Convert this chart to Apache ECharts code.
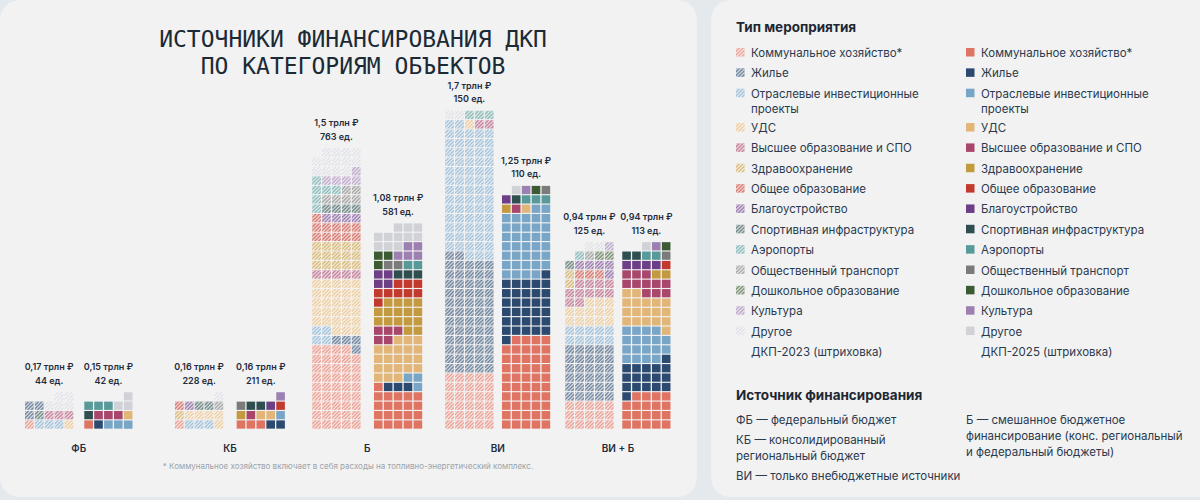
<!DOCTYPE html>
<html>
<head>
<meta charset="utf-8">
<script src="https://cdn.jsdelivr.net/npm/echarts@6/dist/echarts.min.js"></script>
<style>
  html, body { margin: 0; padding: 0; background: #e4e9ee; }
  #main { width: 1200px; height: 500px; }
</style>
</head>
<body>
<div id="main"></div>
<script>
// категории мероприятий (порядок как в легенде)
var categories = ['Коммунальное хозяйство*', 'Жилье', 'Отраслевые инвестиционные\nпроекты', 'УДС',
  'Высшее образование и СПО', 'Здравоохранение', 'Общее образование', 'Благоустройство',
  'Спортивная инфраструктура', 'Аэропорты', 'Общественный транспорт', 'Дошкольное образование',
  'Культура', 'Другое'];
var colors = ['#df7463', '#2c4a70', '#79a5c7', '#e2b679', '#a8466b', '#c49a40', '#c23a2d',
  '#6c3f86', '#2f4e4f', '#58999a', '#7b7b7b', '#3d5b33', '#9c80b1', '#d0d2d8'];

var groups = ['ФБ', 'КБ', 'Б', 'ВИ', 'ВИ + Б'];
var sumLabels = ['0,17 трлн ₽', '0,15 трлн ₽', '0,16 трлн ₽', '0,16 трлн ₽', '1,5 трлн ₽',
  '1,08 трлн ₽', '1,7 трлн ₽', '1,25 трлн ₽', '0,94 трлн ₽', '0,94 трлн ₽'];
var countLabels = [44, 42, 228, 211, 763, 581, 150, 110, 125, 113];

// клетки: [категория, сколько клеток] в порядке заполнения змейкой снизу, -1 = пустая клетка
var fb2023 = [[0, 1], [2, 3], [3, 1], [4, 3], [8, 1], [1, 3], [13, 5]];
var fb2025 = [[0, 1], [1, 1], [2, 3], [3, 1], [4, 3], [8, 1], [9, 3], [13, 3]];
var kb2023 = [[0, 1], [2, 3], [3, 5], [5, 1], [6, 1], [7, 1], [8, 2], [10, 1], [13, 1]];
var kb2025 = [[0, 3], [1, 2], [2, 1], [3, 2], [4, 1], [5, 1], [10, 1], [8, 2], [7, 1], [6, 1], [12, 1]];
var b2023 = [[0, 44], [1, 4], [2, 4], [3, 28], [4, 5], [5, 15], [6, 11], [7, 4], [8, 4], [9, 2],
  [10, 6], [9, 4], [12, 5], [13, 13]];
var b2025 = [[0, 21], [1, 3], [2, 3], [3, 21], [4, 5], [5, 16], [6, 9], [7, 4], [8, 3], [9, 2],
  [10, 2], [11, 3], [12, 5], [13, 11]];
var vi2023 = [[0, 30], [1, 62], [2, 70], [3, 1], [4, 2], [9, 3], [13, 2]];
var vi2025 = [[0, 49], [1, 31], [2, 4], [1, 1], [2, 32], [3, 1], [4, 1], [5, 1], [7, 1], [8, 1],
  [9, 3], [10, 1], [11, 1], [12, 1], [13, 1]];
var vb2023 = [[0, 15], [1, 30], [2, 10], [3, 13], [4, 11], [5, 2], [6, 3], [7, 5], [8, 1], [-1, 1],
  [9, 1], [10, 1], [11, 2], [12, 1], [13, 2]];
var vb2025 = [[0, 19], [1, 17], [2, 18], [3, 18], [4, 11], [5, 2], [6, 1], [7, 4], [8, 2], [9, 2],
  [10, 1], [11, 1], [12, 1], [13, 1]];

var columns = [fb2023, fb2025, kb2023, kb2025, b2023, b2025, vi2023, vi2025, vb2023, vb2025];

// раскладка: левый край каждой колонки в клетках по оси x
var colStart = [0, 5.99, 15.15, 21.38, 29.02, 35.25, 42.45, 48.18, 54.58, 60.33];
var PER_ROW = 5;
var CELL_W = 0.87, CELL_H = 0.88;
var COL_W = PER_ROW - 1 + CELL_W;

var TEXT = '#1f2d3d';
var LEG = '#2b3a4e';
var SANS = 'Inter, "Noto Sans", "DejaVu Sans", sans-serif';

function tint(hex, t) {
  var n = parseInt(hex.slice(1), 16);
  var r = n >> 16, g = (n >> 8) & 255, b = n & 255;
  r = Math.round(r + (255 - r) * t);
  g = Math.round(g + (255 - g) * t);
  b = Math.round(b + (255 - b) * t);
  return 'rgb(' + r + ',' + g + ',' + b + ')';
}

// диагональная штриховка "///" внутри квадрата
function hatchLines(x, y, w, h) {
  var out = [];
  for (var c = 1.8; c < w + h; c += 3.6) {
    var u1 = Math.max(0, c - h), u2 = Math.min(w, c);
    out.push({
      type: 'line',
      shape: { x1: x + u1, y1: y + c - u1, x2: x + u2, y2: y + c - u2 },
      style: { stroke: 'rgba(255,255,255,0.7)', lineWidth: 1.1 }
    });
  }
  return out;
}

function swatch(x, y, w, h, cat, hatch) {
  var col = colors[cat];
  if (!hatch) {
    return { type: 'rect', shape: { x: x, y: y, width: w, height: h }, style: { fill: col } };
  }
  return {
    type: 'group',
    children: [{ type: 'rect', shape: { x: x, y: y, width: w, height: h }, style: { fill: tint(col, 0.36) } }]
      .concat(hatchLines(x, y, w, h))
  };
}

// собираем клетки
var cells = [];
var labelData = [];
columns.forEach(function (runs, c) {
  var k = 0;
  runs.forEach(function (run) {
    for (var i = 0; i < run[1]; i++, k++) {
      if (run[0] < 0) continue;
      var row = Math.floor(k / PER_ROW), p = k % PER_ROW;
      var pos = row % 2 === 0 ? p : PER_ROW - 1 - p;
      cells.push([colStart[c] + pos, row, run[0], c % 2 === 0 ? 1 : 0]);
    }
  });
  labelData.push([colStart[c] + COL_W / 2, Math.ceil(k / PER_ROW), c]);
});
var groupData = groups.map(function (g, i) {
  return [(colStart[2 * i] + colStart[2 * i + 1] + COL_W) / 2, 0, i];
});

// подложки, легенда справа, сноска
var graphics = [
  { type: 'rect', z: 0, shape: { x: 0, y: 0, width: 697, height: 497, r: 20 }, style: { fill: '#f2f2f2' } },
  { type: 'rect', z: 0, shape: { x: 711, y: 0, width: 520, height: 497, r: 20 }, style: { fill: '#f2f2f2' } },
  { type: 'text', z: 1, style: { text: 'Тип мероприятия', x: 736, y: 27, verticalAlign: 'middle',
      font: 'bold 13.5px ' + SANS, fill: '#1d2733' } },
  { type: 'text', z: 1, style: { text: 'Источник финансирования', x: 736, y: 395, verticalAlign: 'middle',
      font: 'bold 13.5px ' + SANS, fill: '#1d2733' } },
  { type: 'text', z: 1, style: { text: '* Коммунальное хозяйство включает в себя расходы на топливно-энергетический комплекс.',
      x: 348, y: 466, align: 'center', verticalAlign: 'middle', font: '8px ' + SANS, fill: '#9aa3ab' } }
];
categories.concat(['']).forEach(function (name, i) {
  var y = 52.5 + i * 20.35 + (i > 2 ? 14 : 0);
  [0, 1].forEach(function (side) {
    var x = side === 0 ? 736 : 966;
    var text = name;
    if (i === categories.length) {
      text = side === 0 ? 'ДКП-2023 (штриховка)' : 'ДКП-2025 (штриховка)';
    } else {
      var sw = swatch(x, y - 4.5, 8.5, 8.5, i, side === 0);
      sw.z = 1;
      graphics.push(sw);
    }
    graphics.push({ type: 'text', z: 1, style: { text: text, x: x + 15, y: y - 7, lineHeight: 15,
      verticalAlign: 'top', font: '11.5px ' + SANS, fill: LEG } });
  });
});
[
  ['ФБ — федеральный бюджет', 736, 420],
  ['КБ — консолидированный', 736, 440],
  ['региональный бюджет', 736, 456],
  ['ВИ — только внебюджетные источники', 736, 476],
  ['Б — смешанное бюджетное', 966, 420],
  ['финансирование (конс. региональный', 966, 436],
  ['и федеральный бюджеты)', 966, 452]
].forEach(function (t) {
  graphics.push({ type: 'text', z: 1, style: { text: t[0], x: t[1], y: t[2], verticalAlign: 'middle',
    font: '11.5px ' + SANS, fill: LEG } });
});

var myChart = echarts.init(document.getElementById('main'), null, { renderer: 'svg' });

var option = {
  backgroundColor: '#e4e9ee',
  animation: false,
  title: {
    text: 'ИСТОЧНИКИ ФИНАНСИРОВАНИЯ ДКП\nПО КАТЕГОРИЯМ ОБЪЕКТОВ',
    left: 348,
    top: 20,
    textAlign: 'center',
    textStyle: { fontFamily: '"DejaVu Sans Mono", monospace', fontSize: 23, lineHeight: 27,
      fontWeight: 'normal', color: '#1b2a35' }
  },
  grid: { left: 25, top: 54, width: 653.4, height: 375.2 },
  xAxis: { type: 'value', min: 0, max: 66, show: false },
  yAxis: { type: 'value', min: 0, max: 40, show: false },
  graphic: graphics,
  series: [
    {
      name: 'cells',
      type: 'custom',
      data: cells,
      renderItem: function (params, api) {
        var tl = api.coord([api.value(0), api.value(1) + 0.94]);
        var sz = api.size([CELL_W, CELL_H]);
        return swatch(tl[0], tl[1], sz[0], sz[1], api.value(2), api.value(3) === 1);
      }
    },
    {
      name: 'totals',
      type: 'custom',
      data: labelData,
      renderItem: function (params, api) {
        var p = api.coord([api.value(0), api.value(1)]);
        var i = api.value(2);
        var st = { align: 'center', verticalAlign: 'middle', font: '600 9px ' + SANS, fill: TEXT };
        return {
          type: 'group',
          children: [
            { type: 'text', style: Object.assign({ text: sumLabels[i], x: p[0], y: p[1] - 25 }, st) },
            { type: 'text', style: Object.assign({ text: countLabels[i] + ' ед.', x: p[0], y: p[1] - 11.5 }, st) }
          ]
        };
      }
    },
    {
      name: 'groups',
      type: 'custom',
      data: groupData,
      renderItem: function (params, api) {
        var p = api.coord([api.value(0), api.value(1)]);
        return { type: 'text', style: { text: groups[api.value(2)], x: p[0], y: p[1] + 19,
          align: 'center', verticalAlign: 'middle', font: '600 10px ' + SANS, fill: TEXT } };
      }
    }
  ]
};

myChart.setOption(option);
</script>
</body>
</html>
